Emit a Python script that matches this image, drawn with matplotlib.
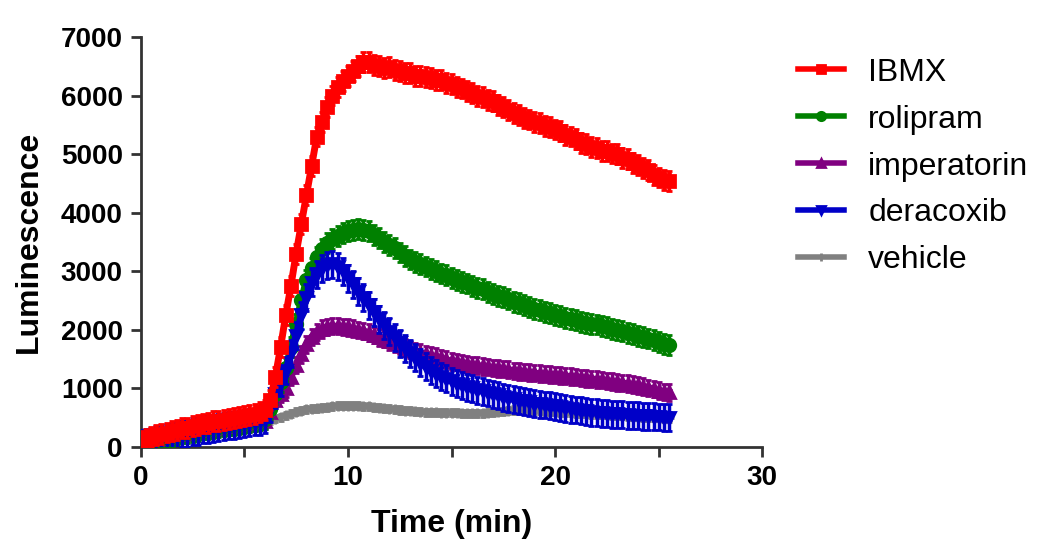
import matplotlib
matplotlib.use("Agg")
import matplotlib.pyplot as plt
import numpy as np
from matplotlib.lines import Line2D
from matplotlib.ticker import MultipleLocator

plt.rcParams["font.family"] = ["Liberation Sans", "DejaVu Sans"]

# time grid, every 15 s from 0 to 25.5 min
time_min = np.arange(0, 25.51, 0.25)

labels = ["IBMX", "rolipram", "imperatorin", "deracoxib", "vehicle"]
colors = ["#ff0000", "#008000", "#800080", "#0000c8", "#808080"]
markers = ["s", "o", "^", "v", "+"]
zorders = [6, 4, 3, 5, 2]

ibmx = [
    100, 140, 175, 200, 225, 245, 270, 290,
    315, 330, 355, 375, 400, 410, 435, 445,
    460, 480, 490, 510, 520, 545, 560, 590,
    630, 800, 1200, 1700, 2250, 2750, 3300, 3800,
    4300, 4800, 5300, 5550, 5800, 6000, 6150, 6250,
    6330, 6420, 6500, 6570, 6580, 6520, 6510, 6470,
    6480, 6430, 6420, 6390, 6380, 6340, 6330, 6310,
    6300, 6270, 6260, 6210, 6200, 6140, 6120, 6070,
    6050, 5990, 5970, 5920, 5900, 5840, 5800, 5760,
    5700, 5670, 5610, 5590, 5550, 5530, 5480, 5470,
    5420, 5390, 5320, 5300, 5250, 5190, 5170, 5120,
    5100, 5060, 5050, 5010, 5000, 4940, 4910, 4850,
    4820, 4760, 4730, 4650, 4600, 4560, 4540,
]
rolipram = [
    55, 80, 100, 125, 150, 165, 190, 205,
    230, 240, 260, 275, 300, 310, 330, 340,
    355, 370, 380, 395, 410, 420, 440, 455,
    480, 650, 900, 1100, 1350, 1700, 2100, 2500,
    2850, 3050, 3250, 3380, 3480, 3550, 3600, 3650,
    3680, 3700, 3720, 3700, 3680, 3620, 3560, 3500,
    3450, 3390, 3320, 3260, 3200, 3160, 3120, 3080,
    3040, 3000, 2960, 2930, 2890, 2850, 2820, 2790,
    2750, 2720, 2690, 2650, 2610, 2580, 2560, 2520,
    2480, 2450, 2420, 2390, 2360, 2330, 2310, 2280,
    2250, 2230, 2200, 2180, 2160, 2140, 2120, 2100,
    2090, 2070, 2040, 2020, 2000, 1980, 1950, 1930,
    1900, 1880, 1850, 1820, 1790, 1760, 1740,
]
imperatorin = [
    50, 70, 95, 115, 140, 160, 175, 195,
    215, 230, 250, 265, 285, 295, 310, 325,
    340, 350, 365, 375, 390, 400, 415, 430,
    450, 600, 800, 900, 1000, 1200, 1400, 1580,
    1750, 1880, 1960, 2020, 2050, 2060, 2060, 2050,
    2040, 2020, 2000, 1980, 1950, 1910, 1870, 1840,
    1800, 1770, 1730, 1700, 1660, 1630, 1610, 1580,
    1560, 1540, 1520, 1490, 1460, 1450, 1430, 1420,
    1400, 1390, 1375, 1360, 1350, 1340, 1330, 1320,
    1300, 1290, 1280, 1270, 1260, 1250, 1240, 1235,
    1230, 1220, 1210, 1200, 1190, 1180, 1170, 1160,
    1150, 1140, 1130, 1115, 1100, 1090, 1080, 1065,
    1050, 1030, 1010, 990, 960, 940, 930,
]
deracoxib = [
    60, 75, 95, 120, 145, 160, 180, 200,
    220, 235, 255, 270, 290, 300, 320, 330,
    345, 360, 370, 385, 400, 410, 425, 440,
    460, 650, 900, 1100, 1300, 1600, 1900, 2250,
    2550, 2800, 2950, 3050, 3100, 3120, 3080, 3000,
    2880, 2780, 2650, 2550, 2420, 2300, 2180, 2080,
    1970, 1870, 1770, 1680, 1600, 1520, 1440, 1370,
    1300, 1250, 1200, 1160, 1120, 1080, 1050, 1020,
    1000, 970, 950, 920, 900, 880, 850, 830,
    810, 790, 775, 760, 740, 730, 715, 700,
    690, 675, 660, 645, 630, 615, 605, 590,
    580, 575, 565, 560, 555, 545, 540, 535,
    530, 525, 520, 515, 510, 500, 495,
]
vehicle = [
    50, 70, 90, 115, 135, 155, 170, 190,
    210, 225, 245, 260, 280, 290, 305, 320,
    335, 345, 360, 370, 385, 395, 410, 420,
    440, 455, 480, 510, 540, 570, 600, 620,
    640, 650, 660, 670, 680, 690, 700, 700,
    705, 700, 700, 695, 690, 680, 670, 660,
    650, 640, 630, 620, 615, 605, 600, 595,
    590, 590, 585, 585, 580, 580, 575, 575,
    575, 575, 575, 580, 590, 600, 610, 620,
    630, 630, 630, 625, 620, 615, 610, 605,
    600, 595, 590, 580, 575, 570, 565, 560,
    555, 550, 545, 540, 535, 530, 525, 520,
    515, 510, 505, 500, 495, 490, 485,
]
series = [ibmx, rolipram, imperatorin, deracoxib, vehicle]
sem = [170, 170, 140, 230, 60]

fig = plt.figure(figsize=(10.5, 5.6), dpi=100)
ax = fig.add_axes([0.134, 0.202, 0.592, 0.732])

handles = []
for y, lab, c, m, z, e in zip(series, labels, colors, markers, zorders, sem):
    ms = 7 if m == "+" else 9
    ax.errorbar(time_min, y, yerr=e, fmt="-", marker=m, color=c, ms=ms, mew=2, lw=5,
                elinewidth=2.5, capsize=2.5, capthick=1.5, zorder=z)
    handles.append(Line2D([], [], color=c, lw=4, marker=m, ms=6, mew=2, label=lab))

ax.set_xlim(0, 30)
ax.set_ylim(0, 7000)
ax.xaxis.set_major_locator(MultipleLocator(10))
ax.xaxis.set_minor_locator(MultipleLocator(5))
ax.yaxis.set_major_locator(MultipleLocator(1000))

for s in ["top", "right"]:
    ax.spines[s].set_visible(False)
for s in ["left", "bottom"]:
    ax.spines[s].set_linewidth(2)
    ax.spines[s].set_color("#333333")

ax.tick_params(which="both", direction="out", length=7, width=2, color="#333333",
               labelsize=20, pad=6)
for t in ax.get_xticklabels() + ax.get_yticklabels():
    t.set_fontweight("bold")

ax.set_xlabel("Time (min)", fontsize=23, fontweight="bold", labelpad=13)
ax.set_ylabel("Luminescence", fontsize=23, fontweight="bold", labelpad=12)

ax.legend(handles=handles, loc="upper left", bbox_to_anchor=(0.760, 0.897),
          bbox_transform=fig.transFigure, frameon=False, fontsize=23,
          handlelength=1.45, handletextpad=0.75, labelspacing=0.53,
          borderpad=0, borderaxespad=0)

fig.savefig("out.png", dpi=100)
